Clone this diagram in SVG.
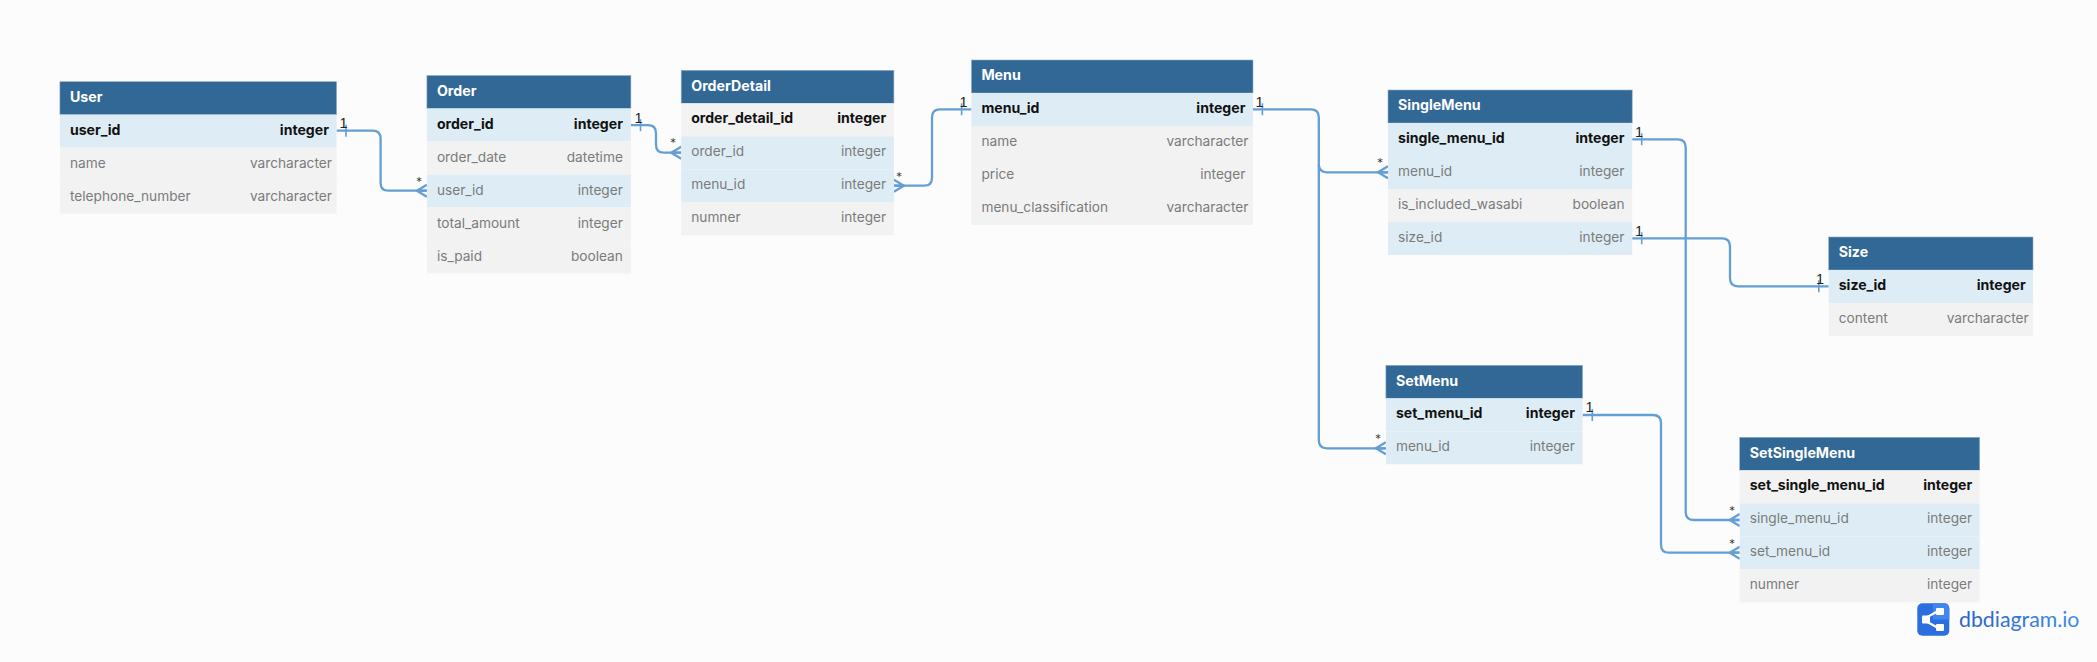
<svg xmlns="http://www.w3.org/2000/svg" width="2097" height="662" viewBox="0 0 2097 662">
<style>
text{font-family:"Inter","Liberation Sans",sans-serif;font-size:13.7px}
.hd{fill:#316896;stroke:#8fb0cb;stroke-width:.6}
.t{fill:#fff;font-weight:700;font-size:14.2px}
.h{fill:#deedf5}
.g{fill:#f2f2f2}
.kn{fill:#111;font-weight:700;font-size:14.1px}
.n{fill:#7b7b7b}
.ty{text-anchor:end}
.w{stroke:#639ed5;stroke-width:2.3;fill:none;stroke-linejoin:round}
.lb{font-family:"Liberation Sans",sans-serif;font-size:14.5px;fill:#222}
.st{font-family:"DejaVu Sans Mono",monospace;font-size:11px;fill:#222}
</style>
<defs>
<path id="crow" class="w" d="M0 -6L-10 0L0 6M-10 0H0"/>
<path id="crowR" class="w" d="M0 -6L10 0L0 6M10 0H0"/>
<path id="tick" d="M0 -6V6" stroke="#639ed5" stroke-width="1.6" fill="none"/>
<linearGradient id="lg" x1="0" x2="1" y1="0" y2="0"><stop offset="0" stop-color="#2a62c8"/><stop offset="1" stop-color="#3f8ceb"/></linearGradient>
</defs>
<rect width="2097" height="662" fill="#fcfcfc"/>

<g id="connectors">
<path class="w" d="M336.6 130.7H372.6Q380.6 130.7 380.6 138.7V182.7Q380.6 190.7 388.6 190.7H426.9"/>
<use href="#tick" x="346" y="130.7"/><use href="#crow" x="426.9" y="190.7"/>
<text class="lb" x="339.5" y="128">1</text><text class="st" x="415.7" y="184.5">*</text>
<path class="w" d="M631 125.2H648Q656 125.2 656 133.2V144.7Q656 152.7 664 152.7H681.2"/>
<use href="#tick" x="640.5" y="125.2"/><use href="#crow" x="681.2" y="152.7"/>
<text class="lb" x="634.5" y="122.5">1</text><text class="st" x="669.7" y="146">*</text>
<path class="w" d="M893.9 185.7H924Q932 185.7 932 177.7V117.3Q932 109.3 940 109.3H971.4"/>
<use href="#crowR" x="893.9" y="185.7"/><use href="#tick" x="961.6" y="109.3"/>
<text class="st" x="895.7" y="179.5">*</text><text class="lb" x="959.5" y="106.5">1</text>
<path class="w" d="M1253 109.3H1310.8Q1318.8 109.3 1318.8 117.3V164.3Q1318.8 172.3 1326.8 172.3H1388"/>
<use href="#tick" x="1262.4" y="109.3"/><use href="#crow" x="1388" y="172.3"/>
<text class="lb" x="1255.5" y="106.5">1</text><text class="st" x="1376.7" y="166">*</text>
<path class="w" d="M1318.8 164.3V440.3Q1318.8 448.3 1326.8 448.3H1385.9"/>
<use href="#crow" x="1385.9" y="448.3"/>
<text class="st" x="1374.7" y="441.5">*</text>
<path class="w" d="M1632.2 139.3H1677.7Q1685.7 139.3 1685.7 147.3V512Q1685.7 520 1693.7 520H1739.7"/>
<use href="#tick" x="1641.7" y="139.3"/><use href="#crow" x="1739.7" y="520"/>
<text class="lb" x="1635" y="136.5">1</text><text class="st" x="1728.7" y="513.5">*</text>
<path class="w" d="M1632.2 238.3H1722Q1730 238.3 1730 246.3V278.3Q1730 286.3 1738 286.3H1828.7"/>
<use href="#tick" x="1641.7" y="238.3"/><use href="#tick" x="1818.8" y="286.3"/>
<text class="lb" x="1635" y="235.5">1</text><text class="lb" x="1816" y="283.5">1</text>
<path class="w" d="M1582.6 415H1653Q1661 415 1661 423V544.7Q1661 552.7 1669 552.7H1739.7"/>
<use href="#tick" x="1592.3" y="415"/><use href="#crow" x="1739.7" y="552.7"/>
<text class="lb" x="1585.5" y="412">1</text><text class="st" x="1728.7" y="546.5">*</text>
</g>

<g id="User" transform="translate(59.9 81.7)">
<rect class="hd" width="276.7" height="33"/><text class="t" x="10" y="20.3">User</text>
<rect class="h" y="33" width="276.7" height="33"/><text class="kn" x="10" y="53.2">user_id</text><text class="kn ty" x="269" y="53.2">integer</text>
<rect class="g" y="66" width="276.7" height="33"/><text class="n" x="10" y="86.2">name</text><text class="n ty" x="272" y="86.2">varcharacter</text>
<rect class="g" y="99" width="276.7" height="33"/><text class="n" x="10" y="119.2">telephone_number</text><text class="n ty" x="272" y="119.2">varcharacter</text>
</g>

<g id="Order" transform="translate(426.9 75.5)">
<rect class="hd" width="204" height="33"/><text class="t" x="10" y="20.3">Order</text>
<rect class="h" y="33" width="204" height="33"/><text class="kn" x="10" y="53.2">order_id</text><text class="kn ty" x="196" y="53.2">integer</text>
<rect class="g" y="66" width="204" height="33"/><text class="n" x="10" y="86.2">order_date</text><text class="n ty" x="196" y="86.2">datetime</text>
<rect class="h" y="99" width="204" height="33"/><text class="n" x="10" y="119.2">user_id</text><text class="n ty" x="196" y="119.2">integer</text>
<rect class="g" y="132" width="204" height="33"/><text class="n" x="10" y="152.2">total_amount</text><text class="n ty" x="196" y="152.2">integer</text>
<rect class="g" y="165" width="204" height="33"/><text class="n" x="10" y="185.2">is_paid</text><text class="n ty" x="196" y="185.2">boolean</text>
</g>

<g id="OrderDetail" transform="translate(681.2 70.3)">
<rect class="hd" width="212.7" height="33"/><text class="t" x="10" y="20.3">OrderDetail</text>
<rect class="g" y="33" width="212.7" height="33"/><text class="kn" x="10" y="53.2">order_detail_id</text><text class="kn ty" x="205" y="53.2">integer</text>
<rect class="h" y="66" width="212.7" height="33"/><text class="n" x="10" y="86.2">order_id</text><text class="n ty" x="205" y="86.2">integer</text>
<rect class="h" y="99" width="212.7" height="33"/><text class="n" x="10" y="119.2">menu_id</text><text class="n ty" x="205" y="119.2">integer</text>
<rect class="g" y="132" width="212.7" height="33"/><text class="n" x="10" y="152.2">numner</text><text class="n ty" x="205" y="152.2">integer</text>
</g>

<g id="Menu" transform="translate(971.4 60)">
<rect class="hd" width="281.6" height="33"/><text class="t" x="10" y="20.3">Menu</text>
<rect class="h" y="33" width="281.6" height="33"/><text class="kn" x="10" y="53.2">menu_id</text><text class="kn ty" x="274" y="53.2">integer</text>
<rect class="g" y="66" width="281.6" height="33"/><text class="n" x="10" y="86.2">name</text><text class="n ty" x="277" y="86.2">varcharacter</text>
<rect class="g" y="99" width="281.6" height="33"/><text class="n" x="10" y="119.2">price</text><text class="n ty" x="274" y="119.2">integer</text>
<rect class="g" y="132" width="281.6" height="33"/><text class="n" x="10" y="152.2">menu_classification</text><text class="n ty" x="277" y="152.2">varcharacter</text>
</g>

<g id="SingleMenu" transform="translate(1388 90)">
<rect class="hd" width="244.2" height="33"/><text class="t" x="10" y="20.3">SingleMenu</text>
<rect class="h" y="33" width="244.2" height="33"/><text class="kn" x="10" y="53.2">single_menu_id</text><text class="kn ty" x="236.5" y="53.2">integer</text>
<rect class="h" y="66" width="244.2" height="33"/><text class="n" x="10" y="86.2">menu_id</text><text class="n ty" x="236.5" y="86.2">integer</text>
<rect class="g" y="99" width="244.2" height="33"/><text class="n" x="10" y="119.2">is_included_wasabi</text><text class="n ty" x="236.5" y="119.2">boolean</text>
<rect class="h" y="132" width="244.2" height="33"/><text class="n" x="10" y="152.2">size_id</text><text class="n ty" x="236.5" y="152.2">integer</text>
</g>

<g id="Size" transform="translate(1828.7 237)">
<rect class="hd" width="204.3" height="33"/><text class="t" x="10" y="20.3">Size</text>
<rect class="h" y="33" width="204.3" height="33"/><text class="kn" x="10" y="53.2">size_id</text><text class="kn ty" x="197" y="53.2">integer</text>
<rect class="g" y="66" width="204.3" height="33"/><text class="n" x="10" y="86.2">content</text><text class="n ty" x="200" y="86.2">varcharacter</text>
</g>

<g id="SetMenu" transform="translate(1385.9 365.3)">
<rect class="hd" width="196.7" height="33"/><text class="t" x="10" y="20.3">SetMenu</text>
<rect class="h" y="33" width="196.7" height="33"/><text class="kn" x="10" y="53.2">set_menu_id</text><text class="kn ty" x="189" y="53.2">integer</text>
<rect class="h" y="66" width="196.7" height="33"/><text class="n" x="10" y="86.2">menu_id</text><text class="n ty" x="189" y="86.2">integer</text>
</g>

<g id="SetSingleMenu" transform="translate(1739.7 437.3)">
<rect class="hd" width="240" height="33"/><text class="t" x="10" y="20.3">SetSingleMenu</text>
<rect class="g" y="33" width="240" height="33"/><text class="kn" x="10" y="53.2">set_single_menu_id</text><text class="kn ty" x="232.5" y="53.2">integer</text>
<rect class="h" y="66" width="240" height="33"/><text class="n" x="10" y="86.2">single_menu_id</text><text class="n ty" x="232.5" y="86.2">integer</text>
<rect class="h" y="99" width="240" height="33"/><text class="n" x="10" y="119.2">set_menu_id</text><text class="n ty" x="232.5" y="119.2">integer</text>
<rect class="g" y="132" width="240" height="33"/><text class="n" x="10" y="152.2">numner</text><text class="n ty" x="232.5" y="152.2">integer</text>
</g>

<g id="logo">
<rect x="1917.3" y="603.3" width="32" height="32.4" rx="5" fill="#2b6ee0"/>
<path d="M1933 603.3h11.3a5 5 0 0 1 5 5V619.5H1933z" fill="#3f86f0"/>
<path d="M1923 619.5L1939 610.5M1923 619.5L1939 628.5" stroke="#fff" stroke-width="2.2" fill="none"/>
<rect x="1922" y="615.5" width="8" height="8" rx="1" fill="#fff"/>
<rect x="1936" y="608" width="8" height="7" rx="1" fill="#fff"/>
<rect x="1936" y="624" width="8" height="7" rx="1" fill="#fff"/>
<text x="1959" y="626.5" style="font-family:'Lato','Noto Sans',sans-serif;font-size:21.3px" fill="url(#lg)">dbdiagram.io</text>
</g>
</svg>
